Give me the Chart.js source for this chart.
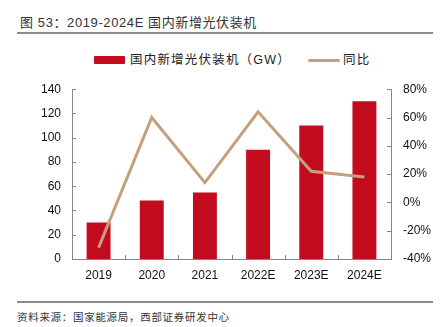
<!DOCTYPE html>
<html>
<head>
<meta charset="utf-8">
<script src="https://cdn.jsdelivr.net/npm/chart.js@4"></script>
<style>
  body { margin: 0; width: 445px; height: 327px; background: #fff; position: relative; overflow: hidden;
         font-family: "Liberation Sans", "Noto Sans CJK SC", sans-serif; }
  #title { position: absolute; left: 20px; top: 12px; font-size: 13px; color: #333; white-space: nowrap;
           letter-spacing: 0.6px; font-family: "Liberation Sans", "Noto Sans CJK SC", sans-serif; }
  .rule { position: absolute; left: 17px; width: 416px; height: 2px; background: #8c8c8c; }
  #source { position: absolute; left: 17px; top: 309px; font-size: 10.5px; color: #333; white-space: nowrap;
            letter-spacing: 0.7px; font-family: "Noto Sans CJK SC", sans-serif; }
  #legend { position: absolute; top: 52px; left: 94px; font-size: 12.5px; color: #222; white-space: nowrap;
            font-family: "Liberation Sans", "Noto Sans CJK SC", sans-serif; }
  .item { position: absolute; top: 0; height: 16px; line-height: 16px; }
  .swatch { position: absolute; }
  #wrap { position: absolute; left: 0; top: 70px; width: 445px; height: 220px; }
</style>
</head>
<body>
<div id="title">图 53：2019-2024E 国内新增光伏装机</div>
<div class="rule" style="top:32px"></div>
<div id="legend"></div>
<div id="wrap"><canvas id="grafico"></canvas></div>
<div class="rule" style="top:301px"></div>
<div id="source">资料来源：国家能源局，西部证券研发中心</div>
<script>
// datos del grafico
const years = ["2019", "2020", "2021", "2022E", "2023E", "2024E"];
const installed = [30.1, 48.2, 54.9, 90, 110, 130];   // GW
const growth = [-32, 60, 14, 64, 22, 18];             // %
const leftTicks = [0, 20, 40, 60, 80, 100, 120, 140];
const rightTicks = [-40, -20, 0, 20, 40, 60, 80];

const barLabel = "国内新增光伏装机（GW）";
const lineLabel = "同比";
const barColor = "#c20c1d";
const lineColor = "#c4a07c";

document.addEventListener("DOMContentLoaded", function () {
  leyenda();
  grafico();
});

function leyenda() {
  const el = document.getElementById("legend");
  el.innerHTML =
    '<div class="swatch" style="left:0;top:4px;width:31px;height:8px;background:' + barColor + ';border-radius:1px"></div>' +
    '<div class="item" style="left:36px;letter-spacing:1.2px">' + barLabel + '</div>' +
    '<div class="swatch" style="left:214px;top:7px;width:32px;height:3px;background:' + lineColor + ';border-radius:2px"></div>' +
    '<div class="item" style="left:249px;letter-spacing:1.2px">' + lineLabel + '</div>';
}

// ticks hacia adentro
const innerTicks = {
  id: "innerTicks",
  afterDraw(chart) {
    const ctx = chart.ctx;
    const area = chart.chartArea;
    ctx.save();
    ctx.strokeStyle = "#888";
    ctx.lineWidth = 1;
    const yl = chart.scales.y;
    yl.ticks.forEach((t, i) => {
      const p = Math.round(yl.getPixelForTick(i)) + 0.5;
      ctx.beginPath(); ctx.moveTo(area.left, p); ctx.lineTo(area.left + 4, p); ctx.stroke();
    });
    const yr = chart.scales.y1;
    yr.ticks.forEach((t, i) => {
      const p = Math.round(yr.getPixelForTick(i)) + 0.5;
      ctx.beginPath(); ctx.moveTo(area.right, p); ctx.lineTo(area.right - 4, p); ctx.stroke();
    });
    const x = chart.scales.x;
    const n = years.length;
    for (let i = 1; i < n; i++) {
      const p = Math.round((x.getPixelForTick(i - 1) + x.getPixelForTick(i)) / 2) + 0.5;
      ctx.beginPath(); ctx.moveTo(p, area.bottom); ctx.lineTo(p, area.bottom - 4); ctx.stroke();
    }
    ctx.restore();
  }
};

function grafico() {
  const ctx = document.getElementById("grafico").getContext("2d");
  const tickFont = { family: "'Liberation Sans', Arial, sans-serif", size: 12 };

  new Chart(ctx, {
    type: "bar",
    data: {
      labels: years,
      datasets: [
        {
          type: "line",
          label: lineLabel,
          data: growth,
          yAxisID: "y1",
          borderColor: lineColor,
          borderWidth: 3,
          pointRadius: 0,
          tension: 0,
          order: 0,
        },
        {
          label: barLabel,
          data: installed,
          yAxisID: "y",
          backgroundColor: barColor,
          categoryPercentage: 1,
          barPercentage: 0.45,
          order: 1,
        },
      ],
    },
    options: {
      responsive: true,
      maintainAspectRatio: false,
      animation: false,
      layout: { padding: { top: 11, left: 0, right: 0, bottom: 0 } },
      plugins: { legend: { display: false }, tooltip: { enabled: false } },
      scales: {
        x: {
          grid: { display: false, drawTicks: false },
          border: { color: "#888", width: 1 },
          ticks: { color: "#111", font: tickFont, padding: 9, maxRotation: 0 },
          afterFit(s) { s.height = 31; },
        },
        y: {
          position: "left",
          min: 0,
          max: 140,
          afterBuildTicks(s) { s.ticks = leftTicks.map((v) => ({ value: v })); },
          grid: { display: false, drawTicks: false },
          border: { color: "#888", width: 1 },
          ticks: { color: "#111", font: tickFont, padding: 11 },
          afterFit(s) { s.width = 72; },
        },
        y1: {
          position: "right",
          min: -40,
          max: 80,
          afterBuildTicks(s) { s.ticks = rightTicks.map((v) => ({ value: v })); },
          grid: { display: false, drawTicks: false },
          border: { color: "#888", width: 1 },
          ticks: { color: "#111", font: tickFont, padding: 12, callback: (v) => v + "%" },
          afterFit(s) { s.width = 54; },
        },
      },
    },
    plugins: [innerTicks],
  });
}
</script>
</body>
</html>
